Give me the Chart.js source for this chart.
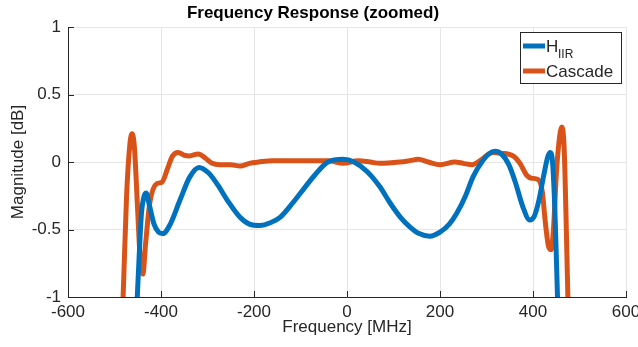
<!DOCTYPE html>
<html lang="en">
<head>
    <meta charset="UTF-8">
    <title>Frequency Response (zoomed)</title>
    <script src="https://cdn.jsdelivr.net/npm/chart.js"></script>
    <style>
        html, body { margin: 0; padding: 0; background: #ffffff; }
        #wrap { position: relative; width: 638px; height: 347px; }
    </style>
</head>
<body>
    <div id="wrap">
        <canvas id="graphique" width="638" height="347"></canvas>
    </div>

    <script>
        // values (MHz, dB)
        const freqIIR = [-456, -451, -447, -442, -436, -432, -425, -415, -405, -396, -380, -359, -338, -318, -298, -278, -258, -230, -210, -187, -165, -144, -116, -100, -70, -41, -8, 15, 43, 70, 92, 115, 135, 155, 178, 200, 220, 236, 255, 271, 292, 305, 318, 332, 348, 362, 378, 393, 403, 413, 423, 432, 437, 442, 447, 451, 456];
        const magIIR = [-1.4, -1.0, -0.7, -0.38, -0.25, -0.23, -0.32, -0.46, -0.52, -0.53, -0.46, -0.28, -0.11, -0.04, -0.08, -0.17, -0.28, -0.41, -0.46, -0.47, -0.45, -0.41, -0.3, -0.23, -0.1, 0.0, 0.02, 0.0, -0.07, -0.18, -0.3, -0.41, -0.48, -0.53, -0.55, -0.52, -0.46, -0.38, -0.25, -0.11, 0.01, 0.06, 0.08, 0.06, -0.02, -0.15, -0.33, -0.43, -0.4, -0.28, -0.1, 0.04, 0.07, 0.0, -0.35, -0.8, -1.4];

        const freqCascade = [-487, -481, -474, -467, -462, -457, -451, -445, -439, -433, -424, -409, -398, -386, -376, -363, -350, -339, -320, -305, -290, -273, -250, -230, -210, -190, -160, -120, -80, -40, -8, 24, 50, 71, 114, 135, 153, 175, 200, 232, 250, 269, 290, 305, 316, 330, 357, 372, 387, 397, 411, 420, 426, 433, 439, 444, 450, 456, 462, 467, 471, 475, 480];
        const magCascade = [-1.5, -0.95, -0.25, 0.13, 0.21, 0.1, -0.3, -0.7, -0.83, -0.6, -0.3, -0.16, -0.15, -0.05, 0.04, 0.07, 0.05, 0.045, 0.06, 0.03, -0.01, -0.02, -0.02, -0.03, -0.01, 0.0, 0.01, 0.01, 0.01, 0.01, -0.01, 0.01, 0.0, -0.01, 0.0, 0.01, 0.02, 0.0, -0.02, 0.0, -0.01, -0.02, 0.02, 0.06, 0.07, 0.065, 0.045, -0.01, -0.1, -0.12, -0.13, -0.22, -0.43, -0.62, -0.65, -0.5, -0.1, 0.15, 0.26, 0.1, -0.4, -1.0, -1.5];

        const xTicks = [-600, -400, -200, 0, 200, 400, 600];
        const yTicks = [-1, -0.5, 0, 0.5, 1];

        const bleu = '#0072BD';
        const orange = '#D95319';
        const gris = '#262626';
        const police = "'Liberation Sans', Arial, Helvetica, sans-serif";

        function toPoints(xs, ys) {
            return xs.map((x, i) => ({ x: x, y: ys[i] }));
        }

        // MATLAB style ticks drawn inside the axes
        const insideTicks = {
            id: 'insideTicks',
            afterDraw(chart) {
                const ctx = chart.ctx;
                const area = chart.chartArea;
                const sx = chart.scales.x, sy = chart.scales.y;
                ctx.save();
                ctx.strokeStyle = gris;
                ctx.lineWidth = 1;
                ctx.beginPath();
                xTicks.forEach(v => {
                    const px = Math.round(sx.getPixelForValue(v)) + 0.5;
                    ctx.moveTo(px, area.bottom);
                    ctx.lineTo(px, area.bottom - 6);
                });
                yTicks.forEach(v => {
                    const py = Math.round(sy.getPixelForValue(v)) + 0.5;
                    ctx.moveTo(area.left, py);
                    ctx.lineTo(area.left + 6, py);
                });
                ctx.stroke();
                ctx.restore();
            }
        };

        // legend box with the subscript in H_IIR
        const legendeBox = {
            id: 'legendeBox',
            afterDraw(chart) {
                const ctx = chart.ctx;
                const left = 520, top = 32, w = 101, h = 51;
                ctx.save();
                ctx.fillStyle = '#ffffff';
                ctx.fillRect(left, top, w, h);
                ctx.strokeStyle = gris;
                ctx.lineWidth = 1;
                ctx.strokeRect(left + 0.5, top + 0.5, w, h);

                ctx.lineWidth = 5;
                ctx.strokeStyle = bleu;
                ctx.beginPath();
                ctx.moveTo(523, 46);
                ctx.lineTo(545, 46);
                ctx.stroke();
                ctx.strokeStyle = orange;
                ctx.beginPath();
                ctx.moveTo(523, 71);
                ctx.lineTo(545, 71);
                ctx.stroke();

                ctx.fillStyle = gris;
                ctx.textBaseline = 'alphabetic';
                ctx.textAlign = 'left';
                ctx.font = '17px ' + police;
                ctx.fillText('H', 546, 52);
                ctx.font = '12px ' + police;
                ctx.fillText('IIR', 558, 58);
                ctx.font = '17px ' + police;
                ctx.fillText('Cascade', 546, 77);
                ctx.restore();
            }
        };

        const ctx = document.getElementById('graphique').getContext('2d');
        const myChart = new Chart(ctx, {
            type: 'line',
            data: {
                datasets: [{
                    label: 'H_IIR',
                    data: toPoints(freqIIR, magIIR),
                    borderColor: bleu,
                    borderWidth: 5,
                    pointRadius: 0,
                    cubicInterpolationMode: 'monotone',
                    borderJoinStyle: 'round',
                    clip: 0
                }, {
                    label: 'Cascade',
                    data: toPoints(freqCascade, magCascade),
                    borderColor: orange,
                    borderWidth: 5,
                    pointRadius: 0,
                    cubicInterpolationMode: 'monotone',
                    borderJoinStyle: 'round',
                    clip: 0
                }]
            },
            options: {
                responsive: false,
                animation: false,
                layout: { padding: { left: 0, right: 12, top: 0, bottom: 0 } },
                plugins: {
                    legend: { display: false },
                    tooltip: { enabled: false },
                    title: {
                        display: true,
                        text: 'Frequency Response (zoomed)',
                        color: '#000000',
                        font: { family: police, size: 17, weight: 'bold' },
                        padding: { top: 3, bottom: 3.6 }
                    }
                },
                scales: {
                    x: {
                        type: 'linear',
                        min: -600,
                        max: 600,
                        afterFit: s => { s.height = 50; s.paddingLeft = 0; s.paddingRight = 0; },
                        afterBuildTicks: s => { s.ticks = xTicks.map(v => ({ value: v })); },
                        ticks: { color: gris, padding: 5, maxRotation: 0, font: { family: police, size: 17 } },
                        grid: { color: '#e6e6e6', drawTicks: false },
                        border: { color: gris, width: 1 },
                        title: {
                            display: true,
                            text: 'Frequency [MHz]',
                            color: gris,
                            font: { family: police, size: 17 },
                            padding: { top: 0, bottom: 9.8 }
                        }
                    },
                    y: {
                        min: -1,
                        max: 1,
                        afterFit: s => { s.width = 68; s.paddingTop = 0; s.paddingBottom = 0; },
                        afterBuildTicks: s => { s.ticks = yTicks.map(v => ({ value: v })); },
                        ticks: { color: gris, padding: 7, font: { family: police, size: 17 }, callback: v => String(v) },
                        grid: { color: '#e6e6e6', drawTicks: false },
                        border: { color: gris, width: 1 },
                        title: {
                            display: true,
                            text: 'Magnitude [dB]',
                            color: gris,
                            font: { family: police, size: 17 },
                            padding: { top: 7.8, bottom: 0 }
                        }
                    }
                }
            },
            plugins: [insideTicks, legendeBox]
        });
    </script>
</body>
</html>
